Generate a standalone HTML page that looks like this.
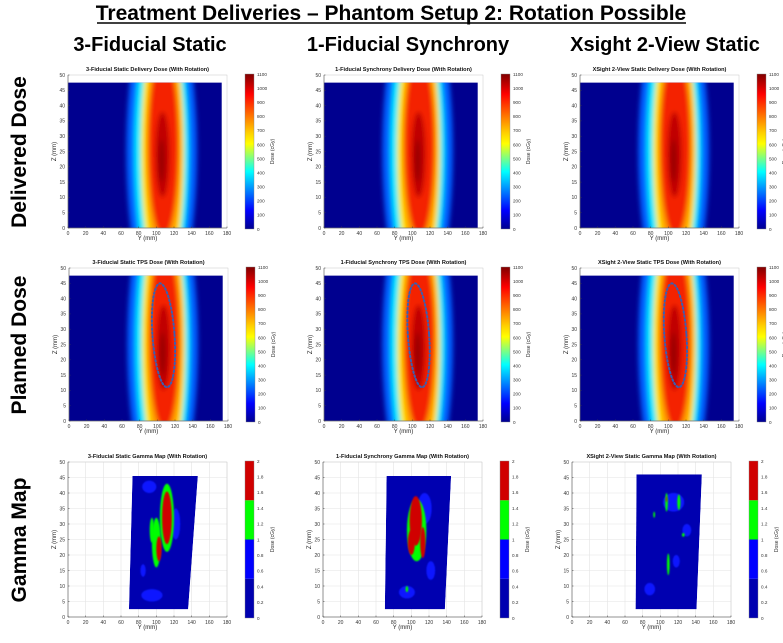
<!DOCTYPE html>
<html><head><meta charset="utf-8"><style>
body{margin:0;background:#fff;width:783px;height:638px;overflow:hidden;font-family:"Liberation Sans",sans-serif}
svg text{font-family:"Liberation Sans",sans-serif}
</style></head><body>
<svg id="fig" width="783" height="638" viewBox="0 0 783 638" xmlns="http://www.w3.org/2000/svg">
<defs>
<linearGradient id="jet" x1="0" y1="1" x2="0" y2="0">
<stop offset="0" stop-color="#00008f"/><stop offset="0.12" stop-color="#0000ff"/><stop offset="0.37" stop-color="#00ffff"/><stop offset="0.55" stop-color="#ffff00"/><stop offset="0.62" stop-color="#ffd000"/><stop offset="0.87" stop-color="#ff0000"/><stop offset="1" stop-color="#800000"/>
</linearGradient>
<filter id="blur" x="-50%" y="-50%" width="200%" height="200%"><feGaussianBlur stdDeviation="2.5"/></filter>
<filter id="blur2" x="-50%" y="-50%" width="200%" height="200%"><feGaussianBlur stdDeviation="0.8"/></filter>
</defs>
<text x="391" y="20" text-anchor="middle" font-size="21" font-weight="bold">Treatment Deliveries – Phantom Setup 2: Rotation Possible</text>
<line x1="97" y1="23" x2="686" y2="23" stroke="#000" stroke-width="1.5"/>
<text x="150" y="51" text-anchor="middle" font-size="20" font-weight="bold">3-Fiducial Static</text>
<text x="408" y="51" text-anchor="middle" font-size="20" font-weight="bold">1-Fiducial Synchrony</text>
<text x="665" y="51" text-anchor="middle" font-size="20" font-weight="bold">Xsight 2-View Static</text>
<text transform="translate(26,152) rotate(-90)" text-anchor="middle" font-size="21" font-weight="bold">Delivered Dose</text>
<text transform="translate(26,345) rotate(-90)" text-anchor="middle" font-size="21" font-weight="bold">Planned Dose</text>
<text transform="translate(26,540) rotate(-90)" text-anchor="middle" font-size="21" font-weight="bold">Gamma Map</text>
</svg>
<script>
const xTicks=[0,20,40,60,80,100,120,140,160,180];
const zTicks=[0,5,10,15,20,25,30,35,40,45,50];
const doseTicks=[0,100,200,300,400,500,600,700,800,900,1000,1100];
const gammaTicks=[0,0.2,0.4,0.6,0.8,1,1.2,1.4,1.6,1.8,2];
const colNames=["3-Fiducial Static","1-Fiducial Synchrony","XSight 2-View Static"];
// dose layers: [centerY(mm), centerZ(mm), halfWidthY(mm), halfHeightZ(mm), color]
const doseLayers=[[106,25,40,52,"#0060ff"],[106,25,31,48,"#00e8ff"],[107,25,24.5,44,"#ffee00"],[108,26,21,38,"#ffa000"],[108,27,17,30,"#f42000"],[107,24,8,14,"#c00000"],[106,22,3,7,"#950000"]];
// planned target contour: [centerY, centerZ, halfY, halfZ]
const target=[[107,28,12.5,17],[107,28,12,17],[108,28,12.5,17]];
// gamma region corners (mm): [yTopLeft, yTopRight, yBottomRight, yBottomLeft, zTop, zBottom]
const gammaRegion=[[73,147,136,69,45.5,2.5],[72,145,138,70,45.5,2.5],[73,147,141,72,46,2.5]];
// gamma blobs: [y, z, ry, rz, level] level 1=blue(0.5-1) 2=green 3=red
const gammaBlobs=[
 [[92,42,8,2,1],[122,30,5,5,1],[95,7,12,2,1],[85,15,3,2,1],[112,32,8,11,2],[100,24,5,8,2],[112,32,5.5,8.5,3],[103,22,3,4,3],[95,28,2.5,4,2]],
 [[115,35,8,5,1],[95,8,9,2,1],[122,15,5,3,1],[106,28,11,10,2],[105,31,7,8,3],[100,24,4,4,3],[113,24,3,5,3],[95,9,1.5,1,2]],
 [[115,37,12,3,1],[88,9,6,2,1],[118,18,4,2,1],[130,28,5,2,1],[107,37,1.5,3,2],[121,37,1.8,2.5,2],[109,17,1.5,3.5,2],[126,26.5,1.5,0.6,2],[93,33,1,1,2],[107,38,0.6,1,3]]
];
const rows=[{top:75,bot:228,x0:[68,324,580],type:"delivered",title:" Delivery Dose (With Rotation)"},
 {top:268,bot:421,x0:[69,324,580],type:"planned",title:" TPS Dose (With Rotation)"},
 {top:462,bot:617,x0:[68,323,572],type:"gamma",title:" Gamma Map (With Rotation)"}];
const NS="http://www.w3.org/2000/svg";
const fig=document.getElementById('fig');
function mk(tag,at,parent){const e=document.createElementNS(NS,tag);for(const k in at)e.setAttribute(k,at[k]);(parent||fig).appendChild(e);return e;}
const gCols=["#0000b0","#0a14ff","#00ff00","#d00000"];
let cid=0;
rows.forEach((r,ri)=>{
 r.x0.forEach((x0,ci)=>{
  const W=159,top=r.top,bot=r.bot;
  const sx=v=>x0+v/180*W, sz=v=>bot-v/50*(bot-top);
  const g=mk('g',{});
  
  
  mk('rect',{x:x0,y:top,width:W,height:bot-top,fill:"#fff"},g);
  if(r.type==="gamma"){
   xTicks.forEach(t=>mk('line',{x1:sx(t),x2:sx(t),y1:top,y2:bot,stroke:"#e4e4e4","stroke-width":0.6},g));
   zTicks.forEach(t=>mk('line',{x1:x0,x2:x0+W,y1:sz(t),y2:sz(t),stroke:"#e4e4e4","stroke-width":0.6},g));
  }
  cid++;
  const cp=mk('clipPath',{id:'c'+cid},g);
  if(r.type==="gamma"){
   const q=gammaRegion[ci];
   const pts=[[q[0],q[4]],[q[1],q[4]],[q[2],q[5]],[q[3],q[5]]].map(p=>sx(p[0])+','+sz(p[1])).join(' ');
   mk('polygon',{points:pts},cp);
   const dg=mk('g',{'clip-path':'url(#c'+cid+')'},g);
   
   
   mk('polygon',{points:pts,fill:gCols[0]},dg);
   gammaBlobs[ci].forEach(b=>{
    const el=mk('ellipse',{cx:sx(b[0]),cy:sz(b[1]),rx:b[2]/180*W,ry:b[3]/50*(bot-top),fill:gCols[b[4]],filter:"url(#blur2)"},dg);
    
    
   });
  } else {
   mk('rect',{x:sx(0),y:sz(47.5),width:sx(174)-sx(0),height:sz(0)-sz(47.5)},cp);
   const dg=mk('g',{'clip-path':'url(#c'+cid+')'},g);
   
   
   mk('rect',{x:sx(0),y:sz(50),width:W,height:bot-top,fill:"#00008f"},dg);
   const lg=mk('g',{filter:"url(#blur)"},dg);
   doseLayers.forEach(L=>{
    const el=mk('ellipse',{cx:sx(L[0]),cy:sz(L[1]),rx:L[2]/180*W,ry:L[3]/50*(bot-top),fill:L[4]},lg);
    
    
   });
   if(r.type==="planned"){
    const T=target[ci];
    const el=mk('ellipse',{cx:sx(T[0]),cy:sz(T[1]),rx:T[2]/180*W,ry:T[3]/50*(bot-top),fill:"none",stroke:"#3a5fb0","stroke-width":2,"stroke-dasharray":"1.6 2.4","stroke-linecap":"round",transform:`rotate(-4 ${sx(T[0])} ${sz(T[1])})`},g);
    
    
   }
  }
  mk('rect',{x:x0,y:top,width:W,height:bot-top,fill:"none",stroke:"#c8c8c8","stroke-width":0.5},g);
  mk('line',{x1:x0,x2:x0+W,y1:bot,y2:bot,stroke:"#444","stroke-width":0.5},g);
  mk('line',{x1:x0,x2:x0,y1:top,y2:bot,stroke:"#444","stroke-width":0.5},g);
  xTicks.forEach(t=>{mk('line',{x1:sx(t),x2:sx(t),y1:bot,y2:bot-1.5,stroke:"#444","stroke-width":0.5},g);
   const tx=mk('text',{x:sx(t),y:bot+7,"font-size":5,"text-anchor":"middle",fill:"#333"},g);tx.textContent=t;});
  zTicks.forEach(t=>{mk('line',{x1:x0,x2:x0+1.5,y1:sz(t),y2:sz(t),stroke:"#444","stroke-width":0.5},g);
   const tx=mk('text',{x:x0-3,y:sz(t)+1.8,"font-size":5,"text-anchor":"end",fill:"#333"},g);tx.textContent=t;});
  const xl=mk('text',{x:x0+W/2,y:bot+12,"font-size":6,"text-anchor":"middle",fill:"#222"},g);xl.textContent="Y (mm)";
  const zl=mk('text',{transform:`translate(${x0-12},${(top+bot)/2}) rotate(-90)`,"font-size":6,"text-anchor":"middle",fill:"#222"},g);zl.textContent="Z (mm)";
  const tt=mk('text',{x:x0+W/2,y:top-4,"font-size":5.6,"font-weight":"bold","text-anchor":"middle",fill:"#111"},g);
  tt.textContent=colNames[ci]+r.title;
  const cx=x0+177,cw=9;
  const cb=mk('g',{},g);
  
  
  const cTop=top-1,cBot=bot+1;
  const ticks=r.type==="gamma"?gammaTicks:doseTicks;
  const tmax=ticks[ticks.length-1];
  const cy=v=>cBot-v/tmax*(cBot-cTop);
  if(r.type==="gamma"){
   [0,0.5,1,1.5].forEach((v,i)=>mk('rect',{x:cx,y:cy(v+0.5),width:cw,height:cy(v)-cy(v+0.5),fill:i==1?"#0000ff":gCols[i]},cb));
  } else mk('rect',{x:cx,y:cTop,width:cw,height:cBot-cTop,fill:"url(#jet)"},cb);
  mk('rect',{x:cx,y:cTop,width:cw,height:cBot-cTop,fill:"none",stroke:"#888","stroke-width":0.4},cb);
  ticks.forEach(t=>{const tx=mk('text',{x:cx+cw+3,y:cy(t)+1.8,"font-size":4.6,fill:"#333"},cb);tx.textContent=t;});
  const cl=mk('text',{transform:`translate(${cx+cw+20},${(cTop+cBot)/2}) rotate(-90)`,"font-size":5,"text-anchor":"middle",fill:"#333"},cb);cl.textContent="Dose (cGy)";
 });
});
</script>
</body></html>
